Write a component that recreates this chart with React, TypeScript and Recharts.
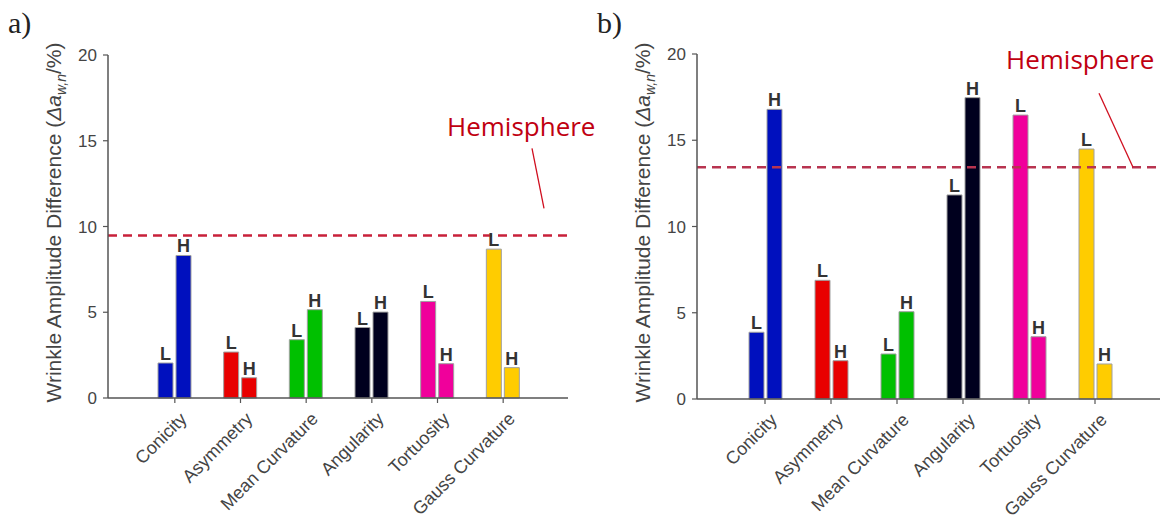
import React from 'react';
import { BarChart, Bar, XAxis, YAxis, Cell, LabelList, ReferenceLine } from 'recharts';

const categories = ['Conicity', 'Asymmetry', 'Mean Curvature', 'Angularity', 'Tortuosity', 'Gauss Curvature'];
const barColors = ['#0010be', '#e80000', '#00c000', '#00001e', '#f0009b', '#ffcc00'];
const yTicks = [0, 5, 10, 15, 20];

// panel a)
const lowA = [2.04, 2.68, 3.4, 4.11, 5.63, 8.68];
const highA = [8.31, 1.18, 5.15, 5.01, 2.0, 1.77];
const hemisphereA = 9.48;

// panel b)
const lowB = [3.87, 6.88, 2.61, 11.83, 16.46, 14.49];
const highB = [16.79, 2.22, 5.06, 17.47, 3.61, 2.03];
const hemisphereB = 13.43;

const sans = 'Liberation Sans, Arial, sans-serif';

const CategoryTick = (props: any) => {
  const { x, y, payload } = props;
  const ax = x + 13;
  const ay = y + 15;
  return (
    <text x={ax} y={ay} transform={`rotate(-45, ${ax}, ${ay})`} textAnchor="end" fontSize={18} fill="#444" fontFamily={sans}>
      {payload.value}
    </text>
  );
};

const makeYLabel = (letter: string) => (props: any) => {
  const vb = props.viewBox || {};
  const axisX = vb.x + vb.width;
  const lx = axisX - 47;
  const ly = vb.y + vb.height / 2 - 4;
  return (
    <g>
      <text x={axisX - 100} y={33} fontSize={30} fontFamily="Liberation Serif, Times New Roman, serif" fill="#222">
        {letter}
      </text>
      <text x={lx} y={ly} transform={`rotate(-90, ${lx}, ${ly})`} textAnchor="middle" fontSize={21} fill="#444" fontFamily={sans}>
        Wrinkle Amplitude Difference (
        <tspan fontStyle="italic">Δa</tspan>
        <tspan fontStyle="italic" fontSize={14} dy={5}>w,n</tspan>
        <tspan dy={-5}>/%)</tspan>
      </text>
    </g>
  );
};

const makeHemisphere = (leader: number[], textPos: number[]) => (props: any) => {
  const vb = props.viewBox || {};
  const ex = vb.x + vb.width;
  const ey = vb.y;
  return (
    <g>
      <line x1={ex + leader[0]} y1={ey + leader[1]} x2={ex + leader[2]} y2={ey + leader[3]} stroke="#d01020" strokeWidth={1.3} />
      <text x={ex + textPos[0]} y={ey + textPos[1]} fontSize={26} fill="#c00010" fontFamily="Open Sans, sans-serif">
        Hemisphere
      </text>
    </g>
  );
};

type PanelProps = {
  letter: string;
  low: number[];
  high: number[];
  hemisphere: number;
  left: number;
  width: number;
  axisWidth: number;
  margin: { top: number; right: number; bottom: number; left: number };
  padding: { left: number; right: number };
  dashColor: string;
  leader: number[];
  textPos: number[];
};

function Panel(p: PanelProps) {
  const data = categories.map((name, i) => ({ name, L: p.low[i], H: p.high[i] }));
  const labelStyle = { fill: '#333', fontSize: 18, fontWeight: 'bold', fontFamily: sans };
  return (
    <div style={{ position: 'absolute', left: p.left, top: 0 }}>
      <BarChart width={p.width} height={521} data={data} margin={p.margin} barSize={15} barGap={3}>
        <XAxis
          dataKey="name"
          height={110}
          padding={p.padding}
          interval={0}
          tick={<CategoryTick />}
          tickSize={5}
          tickMargin={2}
          axisLine={{ stroke: '#555', strokeWidth: 1.5 }}
          tickLine={{ stroke: '#555', strokeWidth: 1.2 }}
        />
        <YAxis
          width={p.axisWidth}
          domain={[0, 20]}
          ticks={yTicks}
          interval={0}
          tickSize={5}
          tickMargin={6}
          tick={{ fill: '#444', fontSize: 17, fontFamily: sans }}
          axisLine={{ stroke: '#555', strokeWidth: 1.5 }}
          tickLine={{ stroke: '#555', strokeWidth: 1.2 }}
          label={{ content: makeYLabel(p.letter) }}
        />
        <ReferenceLine
          y={p.hemisphere}
          stroke={p.dashColor}
          strokeWidth={2.5}
          strokeDasharray="9 6"
          label={{ content: makeHemisphere(p.leader, p.textPos) }}
        />
        <Bar dataKey="L" isAnimationActive={false} stroke="#a0a0a0" strokeWidth={1}>
          {data.map((d, i) => (
            <Cell key={d.name} fill={barColors[i]} />
          ))}
          <LabelList position="top" offset={3} formatter={() => 'L'} {...labelStyle} />
        </Bar>
        <Bar dataKey="H" isAnimationActive={false} stroke="#a0a0a0" strokeWidth={1}>
          {data.map((d, i) => (
            <Cell key={d.name} fill={barColors[i]} />
          ))}
          <LabelList position="top" offset={3} formatter={() => 'H'} {...labelStyle} />
        </Bar>
      </BarChart>
    </div>
  );
}

export default function App() {
  return (
    <div style={{ position: 'absolute', left: 0, top: 0, width: 1162, height: 521, background: '#fff' }}>
      <Panel
        letter="a)"
        low={lowA}
        high={highA}
        hemisphere={hemisphereA}
        left={0}
        width={630}
        axisWidth={108}
        margin={{ top: 55, right: 62, bottom: 13, left: 0 }}
        padding={{ left: 34, right: 32 }}
        dashColor="#c8203a"
        leader={[-36, -87, -24, -27]}
        textPos={[-121, -99]}
      />
      <Panel
        letter="b)"
        low={lowB}
        high={highB}
        hemisphere={hemisphereB}
        left={580}
        width={582}
        axisWidth={117}
        margin={{ top: 54, right: 2, bottom: 12, left: 0 }}
        padding={{ left: 35, right: 32 }}
        dashColor="#b83450"
        leader={[-61, -74, -27, 0]}
        textPos={[-154, -98]}
      />
    </div>
  );
}
